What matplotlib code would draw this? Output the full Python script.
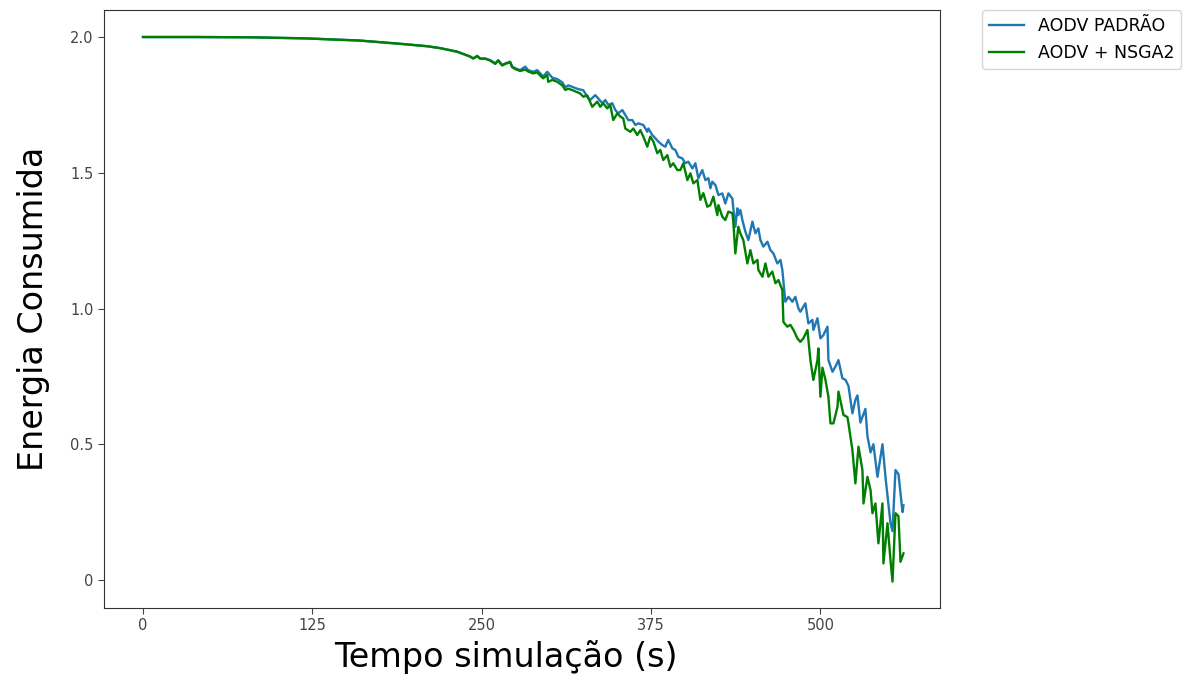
import matplotlib
matplotlib.use('Agg')
import matplotlib.pyplot as plt

# AODV padrao (blue)
tempo_padrao = [0, 40, 80, 120, 160, 190, 210, 219.4, 231.9, 241.5, 243.7, 246.7, 248.9, 252.6,
                256.3, 260.0, 262.2, 265.1, 267.4, 271.0, 272.5, 274.7, 278.4, 282.1, 284.3,
                288.0, 291.0, 293.2, 295.4, 298.4, 302.1, 305.8, 309.5, 311.7, 313.9, 317.6,
                321.3, 325.0, 327.9, 330.1, 333.8, 336.0, 339.0, 341.2, 343.4, 346.4, 348.6,
                350.8, 353.8, 356.0, 358.2, 361.2, 363.4, 365.6, 369.3, 372.2, 373.0, 375.9,
                378.1, 380.4, 383.3, 385.5, 387.7, 390.7, 392.9, 395.1, 398.1, 400.3, 402.5,
                405.5, 407.7, 409.9, 412.8, 415.1, 417.3, 418.8, 420.2, 422.5, 424.7, 427.6,
                429.8, 432.1, 435.0, 435.7, 437.2, 438.7, 439.4, 440.9, 442.4, 444.6, 446.8,
                449.8, 452.0, 454.2, 455.7, 457.9, 460.9, 463.1, 465.3, 468.2, 470.5, 471.9,
                474.1, 476.4, 479.3, 481.5, 483.8, 485.2, 488.9, 491.1, 494.1, 494.8, 497.8,
                500.0, 502.2, 505.2, 505.9, 508.9, 511.1, 513.3, 516.2, 518.5, 520.7, 523.6,
                525.8, 527.3, 529.5, 533.2, 534.7, 537.0, 539.1, 542.1, 545.8, 548.2, 549.5,
                551.7, 553.2, 555.4, 557.6, 560.6, 561.3]
energia_padrao = [2.000, 2.000, 1.999, 1.995, 1.987, 1.975, 1.966, 1.959, 1.946, 1.928, 1.921,
                  1.931, 1.921, 1.921, 1.915, 1.903, 1.915, 1.897, 1.903, 1.909, 1.891, 1.885,
                  1.878, 1.891, 1.878, 1.872, 1.878, 1.866, 1.855, 1.872, 1.850, 1.845, 1.833,
                  1.815, 1.822, 1.815, 1.808, 1.804, 1.780, 1.768, 1.786, 1.774, 1.756, 1.768,
                  1.750, 1.756, 1.731, 1.719, 1.731, 1.713, 1.694, 1.694, 1.676, 1.682, 1.676,
                  1.651, 1.663, 1.639, 1.627, 1.615, 1.602, 1.596, 1.621, 1.590, 1.584, 1.559,
                  1.553, 1.535, 1.541, 1.516, 1.535, 1.480, 1.510, 1.473, 1.480, 1.443, 1.467,
                  1.455, 1.418, 1.424, 1.387, 1.424, 1.405, 1.369, 1.301, 1.369, 1.344, 1.363,
                  1.326, 1.283, 1.252, 1.320, 1.277, 1.295, 1.252, 1.228, 1.246, 1.215, 1.203,
                  1.166, 1.179, 1.142, 1.025, 1.043, 1.025, 1.043, 1.000, 0.988, 1.019, 0.945,
                  0.958, 0.921, 0.964, 0.890, 0.902, 0.933, 0.810, 0.767, 0.786, 0.810, 0.743,
                  0.737, 0.715, 0.614, 0.663, 0.680, 0.580, 0.630, 0.530, 0.470, 0.500, 0.380,
                  0.500, 0.370, 0.310, 0.210, 0.180, 0.405, 0.390, 0.250, 0.275]

# AODV + NSGA2 (green)
tempo_nsga2 = [0, 40, 80, 120, 160, 190, 210, 219.4, 231.9, 241.5, 243.7, 246.7, 248.9, 252.6,
               256.3, 260.0, 262.2, 265.1, 267.4, 271.0, 272.5, 274.7, 278.4, 282.1, 284.3,
               288.0, 291.0, 293.2, 295.4, 298.4, 299.1, 302.1, 305.8, 309.5, 311.7, 313.9,
               317.6, 322.7, 325.0, 327.9, 331.6, 335.3, 337.5, 339.7, 342.7, 344.9, 347.1,
               350.1, 352.3, 354.5, 356.0, 359.7, 361.9, 364.8, 367.1, 369.3, 372.2, 374.4,
               376.7, 379.6, 381.8, 384.0, 387.0, 389.2, 391.4, 394.4, 396.6, 398.8, 401.8,
               404.0, 406.2, 409.2, 411.4, 413.6, 416.5, 418.8, 421.0, 423.9, 424.7, 427.6,
               429.8, 432.1, 435.0, 435.7, 437.2, 439.4, 440.9, 443.1, 446.1, 448.3, 450.5,
               453.5, 454.2, 457.2, 459.4, 461.6, 464.5, 466.8, 469.0, 471.9, 472.7, 475.6,
               477.8, 480.1, 483.0, 485.2, 487.4, 490.4, 492.6, 494.8, 497.8, 498.5, 500.0,
               501.5, 503.7, 505.9, 507.4, 509.6, 512.6, 513.3, 514.8, 517.0, 519.9, 520.7,
               523.6, 525.8, 528.1, 531.0, 531.8, 534.7, 537.0, 538.4, 540.6, 542.8, 545.8,
               546.5, 549.5, 551.7, 553.2, 555.4, 557.6, 559.1, 561.3]
energia_nsga2 = [2.000, 2.000, 1.999, 1.995, 1.987, 1.975, 1.966, 1.959, 1.946, 1.928, 1.921,
                 1.929, 1.920, 1.920, 1.913, 1.901, 1.913, 1.895, 1.901, 1.907, 1.889, 1.882,
                 1.875, 1.880, 1.873, 1.866, 1.870, 1.858, 1.848, 1.860, 1.835, 1.842, 1.835,
                 1.822, 1.805, 1.810, 1.803, 1.792, 1.780, 1.785, 1.743, 1.762, 1.743, 1.756,
                 1.737, 1.749, 1.694, 1.719, 1.707, 1.700, 1.663, 1.651, 1.663, 1.639, 1.657,
                 1.633, 1.596, 1.633, 1.615, 1.572, 1.584, 1.547, 1.565, 1.522, 1.535, 1.510,
                 1.510, 1.535, 1.473, 1.498, 1.461, 1.473, 1.400, 1.425, 1.375, 1.381, 1.412,
                 1.344, 1.381, 1.338, 1.326, 1.357, 1.351, 1.320, 1.203, 1.301, 1.277, 1.252,
                 1.166, 1.215, 1.166, 1.179, 1.142, 1.117, 1.166, 1.117, 1.136, 1.093, 1.105,
                 1.068, 0.950, 0.933, 0.940, 0.921, 0.890, 0.877, 0.890, 0.921, 0.810, 0.737,
                 0.810, 0.853, 0.675, 0.782, 0.737, 0.675, 0.577, 0.577, 0.638, 0.694, 0.660,
                 0.608, 0.600, 0.577, 0.479, 0.356, 0.491, 0.405, 0.282, 0.380, 0.331, 0.246,
                 0.282, 0.135, 0.282, 0.061, 0.209, 0.074, -0.006, 0.246, 0.235, 0.067, 0.098]

x_ticks = [0, 125, 250, 375, 500]
y_ticks = [0, 0.5, 1.0, 1.5, 2.0]
y_tick_labels = ['0', '0.5', '1.0', '1.5', '2.0']

fig = plt.figure(figsize=(11.95, 6.77), dpi=100)
ax = fig.add_axes([0.087, 0.102, 0.700, 0.883])

ax.plot(tempo_padrao, energia_padrao, color='#1f77b4', lw=1.7, label='AODV PADRÃO')
ax.plot(tempo_nsga2, energia_nsga2, color='green', lw=1.7, label='AODV + NSGA2')

ax.set_xlim(-28.8, 588.6)
ax.set_ylim(-0.103, 2.099)
ax.set_xticks(x_ticks)
ax.set_yticks(y_ticks)
ax.set_yticklabels(y_tick_labels)
ax.tick_params(colors='#444444', labelsize=10.5, length=4)
for s in ax.spines.values():
    s.set_color('#333333')

ax.set_xlabel('Tempo simulação (s)', fontsize=24)
ax.set_ylabel('Energia Consumida', fontsize=24)
ax.xaxis.set_label_coords(0.481, -0.053, transform=ax.transAxes)
ax.yaxis.set_label_coords(-0.065, 0.5, transform=ax.transAxes)

ax.legend(bbox_to_anchor=(1.05, 1), loc=2, borderaxespad=0., fontsize=12.5)

fig.savefig('out.png', dpi=100)
